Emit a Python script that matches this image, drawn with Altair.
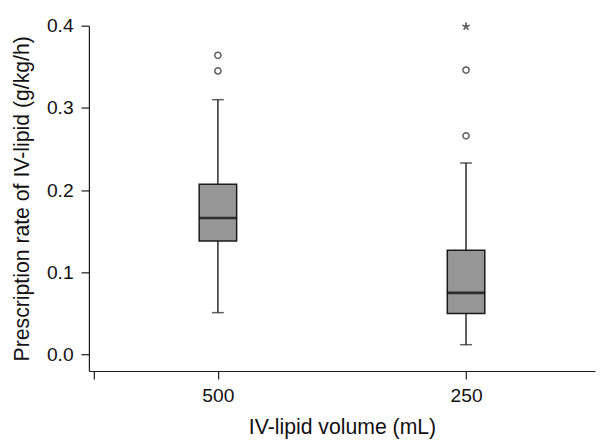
import altair as alt
import pandas as pd

# ---- data ----
groups = ["500", "250"]
positions = [1, 2]
lower_whisker = [0.051, 0.012]
q1 = [0.138, 0.050]
median = [0.166, 0.075]
q3 = [0.207, 0.127]
upper_whisker = [0.310, 0.233]

outlier_pos = [1, 1, 2, 2]
outlier_val = [0.364, 0.345, 0.346, 0.266]

extreme_pos = [2]
extreme_val = [0.399]

y_ticks = [0.0, 0.1, 0.2, 0.3, 0.4]

boxes = pd.DataFrame({
    "group": groups, "pos": positions, "lo": lower_whisker, "q1": q1,
    "med": median, "q3": q3, "hi": upper_whisker,
})
outl = pd.DataFrame({"pos": outlier_pos, "val": outlier_val})
extr = pd.DataFrame({"pos": extreme_pos, "val": extreme_val})

FONT = "Liberation Sans"
LINE = "#1a1a1a"

xscale = alt.Scale(domain=[0.5, 2.5], nice=False, zero=False)
yscale = alt.Scale(domain=[-0.02, 0.4], nice=False, zero=False)

xaxis = alt.Axis(
    title="IV-lipid volume (mL)", values=[0.5, 1, 2],
    labelExpr="datum.value == 1 ? '500' : (datum.value == 2 ? '250' : '')",
    grid=False, tickSize=8, labelPadding=8, titlePadding=12,
    domainColor=LINE, tickColor=LINE, labelColor="#111", titleColor="#111",
    labelFontSize=19.5, titleFontSize=21.5, labelFont=FONT, titleFont=FONT,
    titleFontWeight="normal", domainWidth=1.2, tickWidth=1.2,
)
yaxis = alt.Axis(
    title="Prescription rate of IV-lipid (g/kg/h)", values=y_ticks, format=".1f",
    grid=False, tickSize=8, labelPadding=8, titlePadding=13,
    domainColor=LINE, tickColor=LINE, labelColor="#111", titleColor="#111",
    labelFontSize=19.5, titleFontSize=21.5, labelFont=FONT, titleFont=FONT,
    titleFontWeight="normal", domainWidth=1.2, tickWidth=1.2,
)

base = alt.Chart(boxes)

whisk_lo = base.mark_rule(color=LINE, strokeWidth=1.4).encode(
    x=alt.X("pos:Q", scale=xscale, axis=xaxis),
    y=alt.Y("lo:Q", scale=yscale, axis=yaxis),
    y2="q1:Q",
)
whisk_hi = base.mark_rule(color=LINE, strokeWidth=1.4).encode(
    x="pos:Q", y="q3:Q", y2="hi:Q",
)
cap_lo = base.mark_tick(color=LINE, size=12, thickness=1.5, orient="horizontal").encode(
    x="pos:Q", y="lo:Q",
)
cap_hi = base.mark_tick(color=LINE, size=12, thickness=1.5, orient="horizontal").encode(
    x="pos:Q", y="hi:Q",
)
box = base.mark_bar(size=38, color="#969696", stroke=LINE, strokeWidth=1.5).encode(
    x="pos:Q", y="q1:Q", y2="q3:Q",
)
med = base.mark_tick(color="#000000", size=38, thickness=2.6, orient="horizontal").encode(
    x="pos:Q", y="med:Q",
)
pts = alt.Chart(outl).mark_point(shape="circle", size=40, filled=False,
                                 color=LINE, strokeWidth=1.5).encode(
    x="pos:Q", y="val:Q",
)
star_path = ("M0,0L0,-1M0,0L0.951,-0.309M0,0L0.588,0.809"
             "M0,0L-0.588,0.809M0,0L-0.951,-0.309")
star = alt.Chart(extr).mark_point(shape=star_path, size=64, filled=False,
                                  color=LINE, strokeWidth=1.7).encode(
    x="pos:Q", y="val:Q",
)

chart = alt.layer(whisk_lo, whisk_hi, cap_lo, cap_hi, box, med, pts, star).properties(
    width=513, height=350,
    autosize=alt.AutoSizeParams(type="none"),
    padding={"left": 82, "top": 15, "right": 3, "bottom": 66},
    background="white",
).configure_view(strokeWidth=0)

chart.save("out.html", embed_options={"renderer": "svg", "actions": False})
